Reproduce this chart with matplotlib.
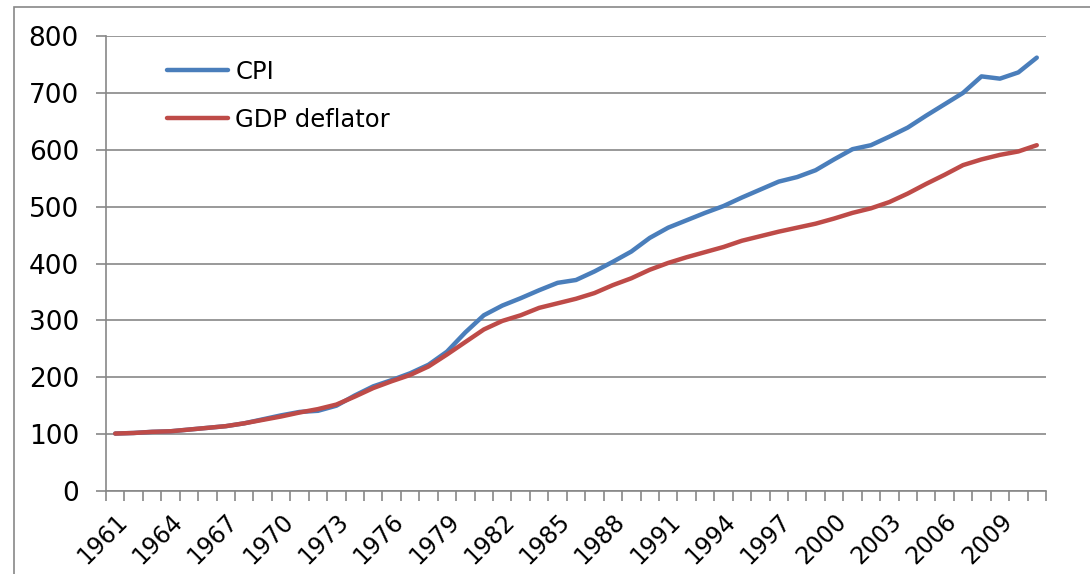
import matplotlib
matplotlib.use("Agg")
import matplotlib.pyplot as plt
from matplotlib.patches import Rectangle
import numpy as np

years = list(range(1961, 2012))

cpi = [101, 102, 104, 105, 108, 111, 114, 119, 126, 133,
       139, 141, 150, 168, 184, 195, 207, 222, 245, 279,
       309, 326, 339, 353, 366, 371, 386, 403, 421, 445,
       463, 476, 489, 501, 516, 530, 544, 552, 564, 583,
       601, 608, 623, 639, 660, 680, 700, 729, 725, 736,
       762]

gdp_deflator = [101, 102, 104, 105, 108, 111, 114, 119, 125, 131,
                138, 144, 152, 166, 181, 193, 204, 219, 240, 262,
                284, 299, 309, 322, 330, 338, 348, 362, 374, 389,
                401, 411, 420, 429, 440, 448, 456, 463, 470, 479,
                489, 497, 508, 523, 540, 556, 573, 583, 591, 597,
                608]

label_years = list(range(1961, 2012, 3))
y_ticks = list(range(0, 801, 100))

W, H = 1090, 574
fig = plt.figure(figsize=(W / 100, H / 100), dpi=100)
ax = fig.add_axes([106 / W, 1 - 491 / H, (1046 - 106) / W, (491 - 36) / H])

grid_col = "#878787"
ax.plot(years, cpi, color="#4A7EBB", lw=3.2, label="CPI", solid_capstyle="round")
ax.plot(years, gdp_deflator, color="#BE4B48", lw=3.2, label="GDP deflator",
        solid_capstyle="round")

ax.set_xlim(1960.5, 2011.5)
ax.set_ylim(0, 800)
ax.set_yticks(y_ticks)
ax.yaxis.grid(True, color=grid_col, lw=1.2)
ax.set_axisbelow(True)

# category boundaries carry the tick marks, labels sit on every third year
ax.set_xticks(np.arange(1960.5, 2012.0, 1.0))
ax.set_xticklabels([])
ax.set_xticks(label_years, minor=True)
ax.set_xticklabels([str(y) for y in label_years], minor=True, rotation=45,
                   ha="right", rotation_mode="anchor", fontsize=17)
ax.tick_params(axis="x", which="major", length=7, width=1.2, color=grid_col)
ax.tick_params(axis="x", which="minor", length=0, pad=13)
ax.tick_params(axis="y", length=7, width=1.2, color=grid_col, labelsize=19, pad=12.5)

for s in ("top", "right"):
    ax.spines[s].set_visible(False)
for s in ("left", "bottom"):
    ax.spines[s].set_color(grid_col)
    ax.spines[s].set_linewidth(1.2)

ax.legend(loc="upper left", bbox_to_anchor=(0.042, 0.996), frameon=False,
          fontsize=17.5, handlelength=2.5, handletextpad=0.3, labelspacing=1.0)

fig.add_artist(Rectangle((14 / W, -0.1), 1.2, 1 - 7 / H + 0.1,
                         transform=fig.transFigure, fill=False,
                         edgecolor=grid_col, lw=1.2))

fig.savefig("out.png", dpi=100, facecolor="white")
